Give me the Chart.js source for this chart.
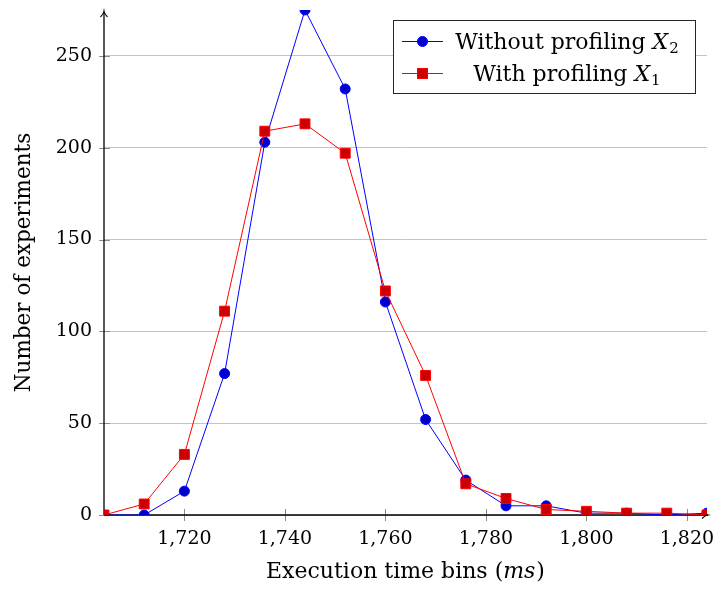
<!DOCTYPE html>
<html>
<head>
<meta charset="utf-8">
<script src="https://cdn.jsdelivr.net/npm/chart.js@4"></script>
<style>
html,body{margin:0;padding:0;background:#fff;}
#wrap{width:718px;height:594px;position:relative;}
</style>
</head>
<body>
<div id="wrap"><canvas id="c" width="718" height="594"></canvas></div>
<script>
// ---- data ----
const bins = [1704,1712,1720,1728,1736,1744,1752,1760,1768,1776,1784,1792,1800,1808,1816,1824];
const withoutProfiling = [0,0,13,77,203,275,232,116,52,19,5,5,1,1,0,1];
const withProfiling = [0,6,33,111,209,213,197,122,76,17,9,3,2,1,1,0];
const xTicks = [1720,1740,1760,1780,1800,1820];
const yTicks = [0,50,100,150,200,250];
const seriesNames = [["Without profiling ","X","2",""],["With profiling ","X","1",""]];
const yTitle = "Number of experiments";
const xTitle = ["Execution time bins (","ms","",")"];

const FONT = "'DejaVu Serif', 'Liberation Serif', serif";
const FS = 19;     // tick labels
const TFS = 22;    // titles / legend

function toPts(xs, ys){ return xs.map((x,i)=>({x:x,y:ys[i]})); }

function drawMixed(ctx, parts, x, y, align, fs){
  // parts: [normal, italic, subscript, trailing normal]
  const f1 = fs+"px "+FONT, f2 = "italic "+fs+"px "+FONT, f3 = Math.round(fs*0.7)+"px "+FONT;
  ctx.font=f1; const w1=ctx.measureText(parts[0]).width;
  ctx.font=f2; const w2=ctx.measureText(parts[1]).width;
  ctx.font=f3; const w3=parts[2]?ctx.measureText(parts[2]).width+1:0;
  ctx.font=f1; const w4=parts[3]?ctx.measureText(parts[3]).width+1:0;
  const total=w1+w2+w3+w4;
  const sx = align==='center'? x-total/2 : x;
  ctx.textAlign='left'; ctx.textBaseline='alphabetic';
  ctx.font=f1; ctx.fillText(parts[0], sx, y);
  ctx.font=f2; ctx.fillText(parts[1], sx+w1, y);
  if(parts[2]){ ctx.font=f3; ctx.fillText(parts[2], sx+w1+w2+1, y+4); }
  if(parts[3]){ ctx.font=f1; ctx.fillText(parts[3], sx+w1+w2+w3+1, y); }
  return total;
}

const decor = {
  id:'decor',
  beforeDatasetsDraw(chart){
    const ctx=chart.ctx, a=chart.chartArea, xs=chart.scales.x, ys=chart.scales.y;
    ctx.save();
    ctx.strokeStyle='#8c8c8c'; ctx.lineWidth=1;
    ctx.beginPath();
    xTicks.forEach(v=>{const px=Math.round(xs.getPixelForValue(v))+0.5; ctx.moveTo(px,a.bottom-6); ctx.lineTo(px,a.bottom+6);});
    yTicks.forEach(v=>{const py=Math.round(ys.getPixelForValue(v))+0.5; ctx.moveTo(a.left-5,py); ctx.lineTo(a.left+6,py);});
    ctx.stroke();
    ctx.strokeStyle='#000'; ctx.lineWidth=1.3;
    ctx.beginPath();
    ctx.moveTo(a.left, a.bottom); ctx.lineTo(a.right+1, a.bottom);
    ctx.moveTo(a.left, a.bottom); ctx.lineTo(a.left, a.top+2);
    ctx.stroke();
    ctx.lineWidth=1.1;
    ctx.beginPath();
    ctx.moveTo(a.left-3.5, a.top+7); ctx.quadraticCurveTo(a.left-0.5,a.top+4,a.left,a.top+1); ctx.quadraticCurveTo(a.left+0.5,a.top+4,a.left+3.5,a.top+7);
    ctx.moveTo(a.right-5, a.bottom-3.5); ctx.quadraticCurveTo(a.right-2,a.bottom-0.5,a.right+1,a.bottom); ctx.quadraticCurveTo(a.right-2,a.bottom+0.5,a.right-5,a.bottom+3.5);
    ctx.stroke();
    ctx.restore();
  },
  afterDraw(chart){
    const ctx=chart.ctx, a=chart.chartArea;
    ctx.save();
    ctx.fillStyle='#000';
    ctx.save();
    ctx.translate(30, (a.top+a.bottom)/2);
    ctx.rotate(-Math.PI/2);
    ctx.font="21.5px "+FONT; ctx.textAlign='center'; ctx.textBaseline='alphabetic';
    ctx.fillText(yTitle,0,0);
    ctx.restore();
    drawMixed(ctx,xTitle,(a.left+a.right)/2,578,'center',TFS);
    const bx=393.5, by=20.5, bw=302, bh=73;
    ctx.fillStyle='#fff'; ctx.fillRect(bx,by,bw,bh);
    ctx.strokeStyle='#262626'; ctx.lineWidth=1; ctx.strokeRect(bx,by,bw,bh);
    const rows=[41,73];
    const cols=[{line:'#0000ff',fill:'#0000cc',shape:'circle'},{line:'#ff0000',fill:'#cc0000',shape:'rect'}];
    rows.forEach((ry,i)=>{
      ctx.strokeStyle=cols[i].line; ctx.lineWidth=1;
      ctx.beginPath(); ctx.moveTo(402,ry+0.5); ctx.lineTo(443,ry+0.5); ctx.stroke();
      ctx.fillStyle=cols[i].fill; ctx.strokeStyle=cols[i].line;
      if(cols[i].shape==='circle'){ctx.beginPath(); ctx.arc(422.5,ry+0.5,5,0,Math.PI*2); ctx.fill(); ctx.stroke();}
      else {ctx.fillRect(417.5,ry-4.5,10,10); ctx.strokeRect(417.5,ry-4.5,10,10);}
      ctx.fillStyle='#000';
      drawMixed(ctx,seriesNames[i],567,ry+8,'center',TFS);
    });
    ctx.restore();
  }
};

function noPad(s){ s.paddingTop=0; s.paddingBottom=0; s.paddingLeft=0; s.paddingRight=0; }

new Chart(document.getElementById('c'), {
  type:'line',
  data:{
    datasets:[
      {label:'Without profiling X2', data:toPts(bins,withoutProfiling), borderColor:'#0000ff', backgroundColor:'#0000cc',
       borderWidth:1, pointStyle:'circle', pointRadius:5, pointBorderWidth:1, pointBorderColor:'#0000ff', tension:0, order:1},
      {label:'With profiling X1', data:toPts(bins,withProfiling), borderColor:'#ff0000', backgroundColor:'#cc0000',
       borderWidth:1, pointStyle:'rect', pointRadius:7, pointBorderWidth:1, pointBorderColor:'#ff0000', tension:0, order:0}
    ]
  },
  options:{
    responsive:false, animation:false, devicePixelRatio:1,
    layout:{padding:{left:0,right:11,top:10,bottom:0}},
    plugins:{legend:{display:false}, tooltip:{enabled:false}},
    scales:{
      x:{type:'linear', min:1704, max:1824,
         afterBuildTicks(s){ s.ticks = xTicks.map(v=>({value:v})); },
         afterFit(s){ s.height = 79; noPad(s); },
         grid:{display:false, drawTicks:false}, border:{display:false},
         ticks:{padding:13, color:'#000', font:{family:FONT,size:FS}, maxRotation:0, autoSkip:false,
           callback:v=>v.toLocaleString('en-US')}},
      y:{type:'linear', min:0, max:275,
         afterBuildTicks(s){ s.ticks = yTicks.map(v=>({value:v})); },
         afterFit(s){ s.width = 104; noPad(s); },
         grid:{color:'#c4c4c4', lineWidth:1, drawTicks:false}, border:{display:false},
         ticks:{padding:12, color:'#000', font:{family:FONT,size:FS}, autoSkip:false}}
    }
  },
  plugins:[decor]
});
</script>
</body>
</html>
